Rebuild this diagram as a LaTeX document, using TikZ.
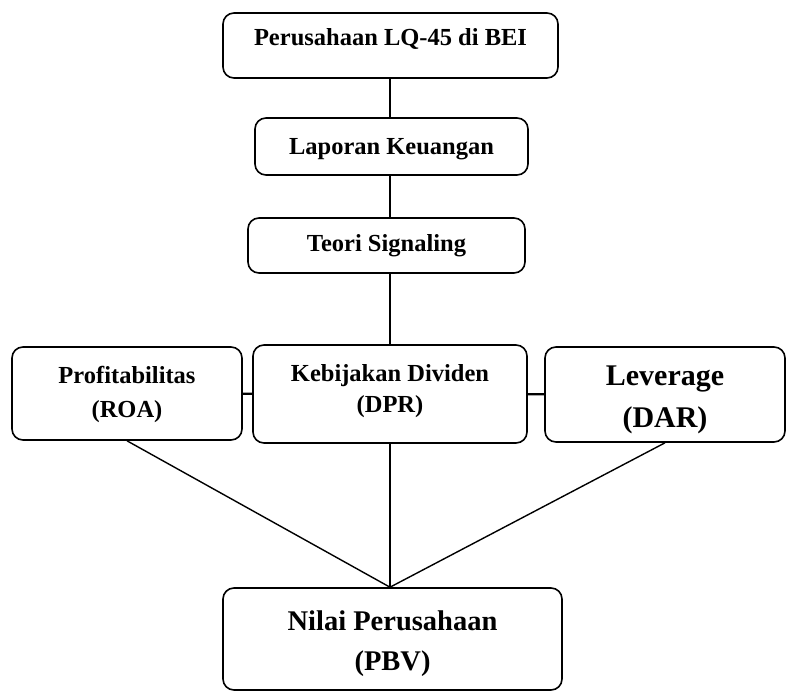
\documentclass[tikz,border=0pt]{standalone}
\usepackage{fontspec}
\setmainfont{Liberation Serif}
\usetikzlibrary{calc}

\tikzset{
  kotak/.style={draw, rounded corners=11pt, line width=1.6pt, align=center, inner sep=0pt,
    font=\bfseries\fontsize{24.5}{34}\selectfont},
  garis/.style={line width=1.4pt},
  garistebal/.style={line width=2.4pt}
}

\begin{document}
\begin{tikzpicture}[x=1pt,y=-1pt]
			\useasboundingbox (0,0) rectangle (787,693);
			\node[kotak, minimum width=335, minimum height=65, text height=16pt, text depth=15pt] (puncak) at (390.5,45.5) {Perusahaan LQ-45 di BEI};
			\node[kotak, minimum width=273, minimum height=57, text height=20pt, text depth=5pt] (laporan) at (391.5,146.5) {Laporan Keuangan};
			\node[kotak, minimum width=277, minimum height=55, text height=17pt, text depth=6pt] (teori) at (386.5,245.5) {Teori Signaling};
			\node[kotak, minimum width=230, minimum height=93, text height=54pt, text depth=7pt] (profit) at (127,393.5) {Profitabilitas\\(ROA)};
			\node[kotak, minimum width=274, minimum height=98, text height=44pt, text depth=8pt, font=\bfseries\fontsize{24.5}{31}\selectfont] (dividen) at (390,394) {Kebijakan Dividen\\(DPR)};
			\node[kotak, minimum width=240, minimum height=95, text height=72pt, text depth=7pt, font=\bfseries\fontsize{30}{42}\selectfont] (leverage) at (665,394.5) {Leverage\\(DAR)};
			\node[kotak, minimum width=339, minimum height=102, text height=70pt, text depth=8pt, font=\bfseries\fontsize{28.5}{40}\selectfont] (nilai) at (392.5,639) {Nilai Perusahaan\\(PBV)};
			\coordinate (temu) at (dividen.south |- nilai.north);
			\draw[garis, line width=2pt] (dividen.north |- puncak.south) -- (dividen.north |- laporan.north);
			\draw[garis, line width=2pt] (dividen.north |- laporan.south) -- (dividen.north |- teori.north);
			\draw[garis, line width=2pt] (dividen.north |- teori.south) -- (dividen.north);
			\draw[garistebal] (profit) -- (dividen);
			\draw[garistebal] (dividen) -- (leverage);
			\draw[garis] (profit.south) -- (temu);
			\draw[garis] (dividen.south) -- (temu);
			\draw[garis] (leverage.south) -- (temu);
		\end{tikzpicture}
\end{document}
